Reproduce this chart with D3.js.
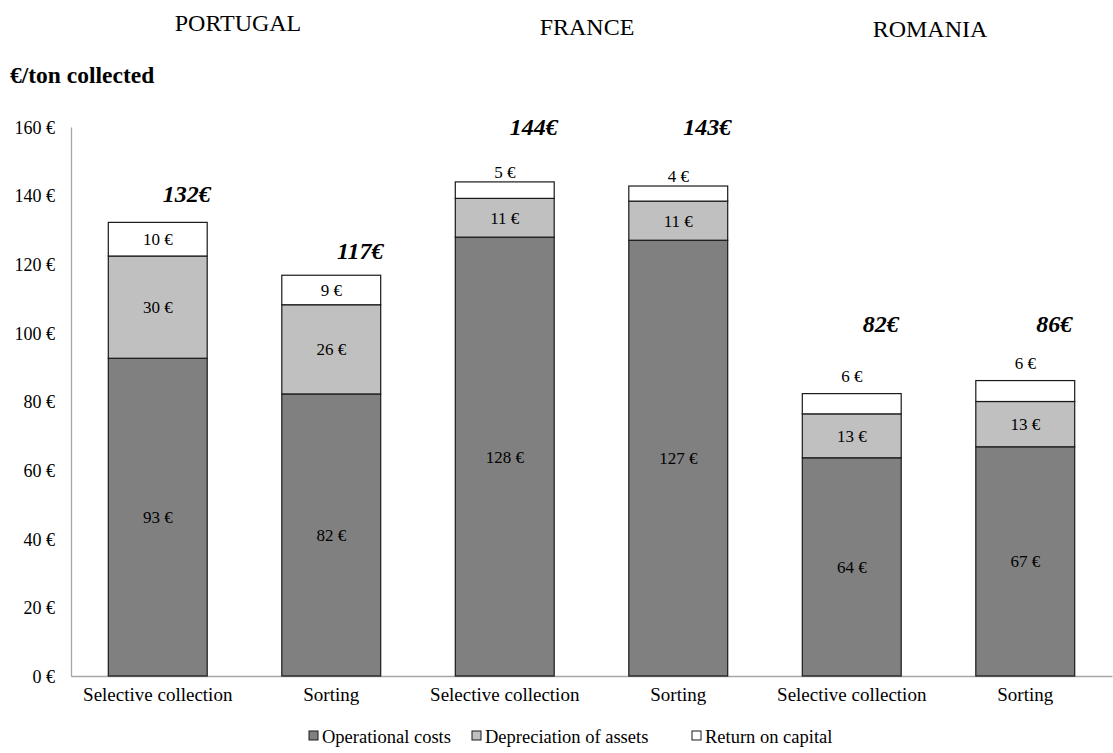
<!DOCTYPE html>
<html>
<head>
<meta charset="utf-8">
<script src="https://cdn.jsdelivr.net/npm/d3@7"></script>
<style>
  html, body { margin: 0; padding: 0; background: #fff; }
  svg { display: block; font-family: "Liberation Serif", "Times New Roman", serif; }
  svg text { font-family: "Liberation Serif", "Times New Roman", serif; }
</style>
</head>
<body>
<svg id="chart" width="1113" height="753"></svg>
<script>
// Cost per ton collected, by country and activity (€/ton)
const countries = ["PORTUGAL", "FRANCE", "ROMANIA"];
const categories = ["Selective collection", "Sorting", "Selective collection", "Sorting", "Selective collection", "Sorting"];
const operationalCosts = [92.6, 82.2, 127.9, 127.0, 63.6, 66.8];
const depreciation    = [29.8, 26.0, 11.3, 11.4, 12.8, 13.2];
const returnOnCapital = [9.8, 8.6, 4.8, 4.4, 5.9, 6.1];
const seriesNames = ["Operational costs", "Depreciation of assets", "Return on capital"];
const yTicks = [0, 20, 40, 60, 80, 100, 120, 140, 160];

// Height (in axis units) at which each total label sits
const totalLabelLevel = [140.5, 124, 160, 160, 102.5, 102.5];

const fills = ["#808080", "#c0c0c0", "#ffffff"];

const svg = d3.select("#chart");
const margin = { left: 71, right: 1, top: 127, bottom: 77 };
const W = 1113, H = 753;

const x = d3.scaleBand()
  .domain(d3.range(categories.length))
  .range([margin.left, W - margin.right])
  .paddingInner(0.43)
  .paddingOuter(0.215);

const y = d3.scaleLinear().domain([0, 160]).range([H - margin.bottom, margin.top]);

// Stack the three cost components
const rows = categories.map((c, i) => ({
  i,
  s0: operationalCosts[i],
  s1: depreciation[i],
  s2: returnOnCapital[i]
}));
const stack = d3.stack().keys(["s0", "s1", "s2"]);
const layers = stack(rows);

// Axes (plain lines, no tick marks)
const yAxis = svg.append("g")
  .attr("transform", `translate(${margin.left},0)`)
  .call(d3.axisLeft(y).tickValues(yTicks).tickSize(0).tickPadding(16).tickFormat(d => d + " €"));
yAxis.attr("font-family", null).attr("font-size", null);
yAxis.select(".domain").attr("stroke", "#a6a6a6").attr("stroke-width", 1.3);
yAxis.selectAll("text").attr("font-size", 18).attr("fill", "#000").attr("dy", "0.35em");

const xAxis = svg.append("g")
  .attr("transform", `translate(0,${y(0)})`)
  .call(d3.axisBottom(x).tickSize(0).tickPadding(12).tickFormat(i => categories[i]));
xAxis.attr("font-family", null).attr("font-size", null);
xAxis.select(".domain").attr("stroke", "#a6a6a6").attr("stroke-width", 1.3);
xAxis.selectAll("text").attr("font-size", 19).attr("fill", "#000");

// Bars
const g = svg.append("g");
layers.forEach((layer, k) => {
  g.selectAll(null)
    .data(layer)
    .join("rect")
    .attr("x", d => x(d.data.i))
    .attr("width", x.bandwidth())
    .attr("y", d => y(d[1]))
    .attr("height", d => y(d[0]) - y(d[1]))
    .attr("fill", fills[k])
    .attr("stroke", "#1a1a1a")
    .attr("stroke-width", 1.2);
});

// Segment value labels; thin top segments get their label above the bar
const fmt = v => Math.round(v) + " €";
layers.forEach((layer, k) => {
  g.selectAll(null)
    .data(layer)
    .join("text")
    .attr("x", d => x(d.data.i) + x.bandwidth() / 2)
    .attr("y", d => {
      const h = y(d[0]) - y(d[1]);
      if (k === 2 && h < 25) return y(d[1]) - (h < 18 ? 10 : 18) + 6;
      return (y(d[0]) + y(d[1])) / 2 + 6;
    })
    .attr("text-anchor", "middle")
    .attr("font-size", 17)
    .attr("fill", "#000")
    .text(d => fmt(d[1] - d[0]));
});

// Totals
const totals = rows.map(r => r.s0 + r.s1 + r.s2);
g.selectAll(null)
  .data(totals)
  .join("text")
  .attr("x", (d, i) => x(i) + x.bandwidth() / 2 + 29)
  .attr("y", (d, i) => y(totalLabelLevel[i]) + 8)
  .attr("text-anchor", "middle")
  .attr("font-size", 24)
  .attr("font-weight", "bold")
  .attr("font-style", "italic")
  .text(d => Math.round(d) + "€");

// Country headers
const countryPos = [[238, 31], [587, 35], [930, 37]];
svg.selectAll(null)
  .data(countries)
  .join("text")
  .attr("x", (d, i) => countryPos[i][0])
  .attr("y", (d, i) => countryPos[i][1])
  .attr("text-anchor", "middle")
  .attr("font-size", 24)
  .text(d => d);

// Unit title
svg.append("text")
  .attr("x", 10)
  .attr("y", 83)
  .attr("font-size", 23.5)
  .attr("font-weight", "bold")
  .text("€/ton collected");

// Legend
const legendX = [309, 472, 692];
const legend = svg.append("g");
seriesNames.forEach((name, k) => {
  legend.append("rect")
    .attr("x", legendX[k])
    .attr("y", 731)
    .attr("width", 9)
    .attr("height", 9)
    .attr("fill", fills[k])
    .attr("stroke", "#1a1a1a")
    .attr("stroke-width", 1);
  legend.append("text")
    .attr("x", legendX[k] + 13)
    .attr("y", 743)
    .attr("font-size", 18.5)
    .text(name);
});
</script>
</body>
</html>
